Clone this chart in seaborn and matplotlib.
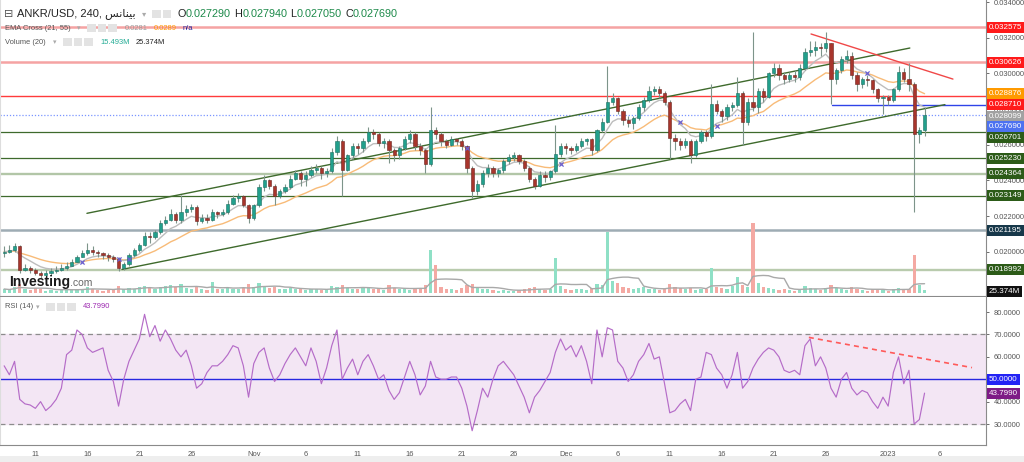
import numpy as np
import pandas as pd
import matplotlib
matplotlib.use("Agg")
import matplotlib.pyplot as plt
import matplotlib.dates as mdates
import matplotlib.transforms as mtransforms
from matplotlib.patches import Rectangle
import seaborn as sns

# ---------------- data (12h candles) ----------------
candle_start = "2022-10-08 00:00"
candle_step = "12h"
first_open = 0.0199

closes = [
    0.0200, 0.0201, 0.0203, 0.0190, 0.0191, 0.0190, 0.0188, 0.0187, 0.0188, 0.0189,
    0.0190, 0.0191, 0.0192, 0.0194, 0.0197, 0.0199, 0.0201, 0.0200, 0.0199, 0.0198,
    0.0197, 0.0196, 0.0191, 0.0193, 0.0198, 0.0201, 0.0204, 0.0209, 0.0208, 0.0211,
    0.0216, 0.0218, 0.0221, 0.0218, 0.0222, 0.0224, 0.0225, 0.0217, 0.0219, 0.0218,
    0.0222, 0.0221, 0.0222, 0.0227, 0.0230, 0.0231, 0.0226, 0.0219, 0.0226, 0.0236,
    0.0240, 0.0237, 0.0231, 0.0234, 0.0236, 0.0241, 0.0244, 0.0241, 0.0243, 0.0246,
    0.0247, 0.0244, 0.0245, 0.0256, 0.0262, 0.0246, 0.0254, 0.0259, 0.0258, 0.0262,
    0.0267, 0.0266, 0.0261, 0.0262, 0.0257, 0.0254, 0.0258, 0.0263, 0.0266, 0.0259,
    0.0257, 0.0249, 0.0268, 0.0266, 0.0262, 0.0260, 0.0263, 0.0262, 0.0259, 0.0247,
    0.0234, 0.0238, 0.0244, 0.0247, 0.0244, 0.0246, 0.0251, 0.0253, 0.0254, 0.0251,
    0.0247, 0.0241, 0.0237, 0.0243, 0.0242, 0.0245, 0.0255, 0.0259, 0.0258, 0.0257,
    0.0259, 0.0262, 0.0263, 0.0257, 0.0268, 0.0273, 0.0284, 0.0286, 0.0279, 0.0274,
    0.0272, 0.0275, 0.0281, 0.0285, 0.0290, 0.0291, 0.0289, 0.0284, 0.0264, 0.0262,
    0.0260, 0.0262, 0.0254, 0.0262, 0.0267, 0.0265, 0.0283, 0.0279, 0.0276, 0.0281,
    0.0282, 0.0289, 0.0273, 0.0284, 0.0281, 0.0290, 0.0287, 0.0300, 0.0303, 0.0299,
    0.0297, 0.0299, 0.0298, 0.0303, 0.0312, 0.0313, 0.0315, 0.0314, 0.0317, 0.0297,
    0.0302, 0.0308, 0.0310, 0.0299, 0.0294, 0.0297, 0.0296, 0.0291, 0.0286, 0.0287,
    0.0285, 0.0291, 0.0301, 0.0297, 0.0294, 0.0266, 0.0268, 0.02769,
]
highs = [
    0.0203, 0.0204, 0.0205, 0.0204, 0.0193, 0.0192, 0.0191, 0.0189, 0.0190, 0.0191,
    0.0192, 0.0193, 0.0194, 0.0196, 0.0198, 0.0201, 0.0205, 0.0203, 0.0201, 0.0200,
    0.0199, 0.0198, 0.0197, 0.0194, 0.0199, 0.0202, 0.0205, 0.0211, 0.0211, 0.0212,
    0.0218, 0.0220, 0.0224, 0.0222, 0.0232, 0.0226, 0.0227, 0.0226, 0.0221, 0.0221,
    0.0224, 0.0223, 0.0224, 0.0229, 0.0232, 0.0233, 0.0232, 0.0227, 0.0227, 0.0238,
    0.0243, 0.0241, 0.0238, 0.0235, 0.0238, 0.0243, 0.0246, 0.0245, 0.0245, 0.0248,
    0.0249, 0.0248, 0.0247, 0.0258, 0.0265, 0.0263, 0.0255, 0.0261, 0.0261, 0.0264,
    0.0270, 0.0269, 0.0267, 0.0264, 0.0263, 0.0258, 0.0259, 0.0265, 0.0268, 0.0267,
    0.0261, 0.0258, 0.0281, 0.0270, 0.0267, 0.0263, 0.0265, 0.0264, 0.0263, 0.0260,
    0.0248, 0.0240, 0.0246, 0.0249, 0.0248, 0.0247, 0.0252, 0.0255, 0.0256, 0.0255,
    0.0252, 0.0248, 0.0242, 0.0245, 0.0245, 0.0246, 0.0271, 0.0261, 0.0261, 0.0259,
    0.0261, 0.0264, 0.0264, 0.0264, 0.0269, 0.0275, 0.0304, 0.0289, 0.0287, 0.0280,
    0.0276, 0.0276, 0.0283, 0.0287, 0.0293, 0.0293, 0.0293, 0.0290, 0.0285, 0.0266,
    0.0264, 0.0264, 0.0263, 0.0263, 0.0268, 0.0268, 0.0294, 0.0285, 0.0280, 0.0283,
    0.0284, 0.0298, 0.0290, 0.0286, 0.0323, 0.0292, 0.0292, 0.0301, 0.0306, 0.0305,
    0.0301, 0.0301, 0.0302, 0.0305, 0.0314, 0.0318, 0.0318, 0.0317, 0.0323, 0.0317,
    0.0303, 0.0310, 0.0313, 0.0312, 0.0301, 0.0298, 0.0299, 0.0297, 0.0292, 0.0288,
    0.0288, 0.0292, 0.0304, 0.0303, 0.0306, 0.0295, 0.0270, 0.0281,
]
lows = [
    0.0197, 0.0199, 0.0200, 0.0188, 0.0189, 0.0188, 0.0187, 0.0185, 0.0186, 0.0187,
    0.0188, 0.0189, 0.0190, 0.0192, 0.0194, 0.0197, 0.0198, 0.0198, 0.0197, 0.0196,
    0.0195, 0.0194, 0.0189, 0.0190, 0.0192, 0.0197, 0.0200, 0.0203, 0.0205, 0.0207,
    0.0210, 0.0215, 0.0217, 0.0216, 0.0216, 0.0220, 0.0222, 0.0215, 0.0216, 0.0216,
    0.0217, 0.0219, 0.0220, 0.0221, 0.0226, 0.0228, 0.0225, 0.0216, 0.0218, 0.0225,
    0.0234, 0.0235, 0.0226, 0.0230, 0.0233, 0.0235, 0.0240, 0.0237, 0.0237, 0.0242,
    0.0244, 0.0241, 0.0242, 0.0244, 0.0254, 0.0231, 0.0245, 0.0252, 0.0255, 0.0256,
    0.0261, 0.0263, 0.0259, 0.0258, 0.0250, 0.0251, 0.0252, 0.0257, 0.0261, 0.0257,
    0.0254, 0.0244, 0.0248, 0.0263, 0.0259, 0.0258, 0.0259, 0.0260, 0.0257, 0.0244,
    0.0230, 0.0232, 0.0236, 0.0242, 0.0242, 0.0242, 0.0244, 0.0249, 0.0251, 0.0249,
    0.0245, 0.0239, 0.0235, 0.0236, 0.0239, 0.0240, 0.0244, 0.0253, 0.0255, 0.0255,
    0.0256, 0.0258, 0.0260, 0.0254, 0.0256, 0.0267, 0.0272, 0.0282, 0.0277, 0.0271,
    0.0270, 0.0269, 0.0274, 0.0279, 0.0284, 0.0288, 0.0286, 0.0282, 0.0252, 0.0257,
    0.0257, 0.0258, 0.0250, 0.0253, 0.0261, 0.0262, 0.0264, 0.0277, 0.0273, 0.0274,
    0.0279, 0.0281, 0.0260, 0.0271, 0.0279, 0.0278, 0.0284, 0.0286, 0.0298, 0.0296,
    0.0294, 0.0295, 0.0295, 0.0296, 0.0302, 0.0310, 0.0310, 0.0310, 0.0312, 0.0283,
    0.0294, 0.0300, 0.0306, 0.0297, 0.0290, 0.0292, 0.0293, 0.0289, 0.0284, 0.0277,
    0.0282, 0.0284, 0.0290, 0.0295, 0.0290, 0.0222, 0.0261, 0.0265,
]
volumes_m = [
    20, 15, 30, 45, 20, 15, 25, 20, 12, 15,
    12, 18, 15, 20, 22, 18, 30, 20, 15, 12,
    15, 14, 35, 20, 25, 20, 28, 35, 25, 20,
    30, 35, 40, 30, 45, 25, 20, 35, 20, 15,
    55, 20, 18, 25, 20, 22, 25, 45, 30, 50,
    35, 25, 30, 20, 18, 25, 22, 20, 15, 18,
    20, 15, 18, 35, 30, 40, 25, 20, 18, 25,
    30, 20, 25, 15, 40, 25, 20, 18, 15, 25,
    20, 40, 215, 140, 30, 20, 18, 15, 25, 40,
    45, 30, 20, 18, 15, 12, 15, 12, 10, 15,
    20, 25, 30, 20, 15, 18, 175, 35, 20, 15,
    18, 20, 15, 25, 45, 40, 305, 60, 50, 30,
    25, 20, 25, 30, 20, 18, 15, 20, 45, 30,
    25, 20, 25, 15, 20, 18, 125, 30, 25, 20,
    35, 80, 40, 30, 350, 50, 30, 25, 20, 15,
    18, 15, 12, 20, 35, 25, 20, 15, 25, 40,
    25, 20, 15, 30, 20, 15, 12, 18, 20, 15,
    12, 20, 25, 15, 20, 190, 40, 15,
]
rsi_values = [
    56, 52, 58, 41, 39, 38.5, 37, 40, 36, 38,
    41, 46, 61, 63, 72, 70, 64, 62, 63, 64,
    54, 49, 38, 50, 58, 63, 68, 79, 69, 74,
    67, 72, 68, 63, 60, 63, 56, 46, 48, 53,
    56, 56, 58, 61, 65, 64, 56, 42, 57, 62,
    64, 55, 49, 52, 57, 61, 64, 60, 56, 64,
    58, 48, 55, 65, 72, 50, 55, 59, 52, 58,
    61, 56, 50, 52, 45, 41, 44, 51, 58, 52,
    43, 47, 58, 51, 50, 50, 51, 51, 46, 38,
    27, 36, 46, 42, 50, 56, 58, 55, 52, 47,
    42, 35, 42, 45, 49, 53, 62, 68, 63, 65,
    60, 65, 58, 48, 72, 60, 73, 72, 58, 55,
    49, 52, 58, 61, 66, 59, 60, 48, 35, 36,
    39, 41, 36, 50, 51, 62, 61, 55, 52, 46,
    52, 62, 46, 49, 55, 59, 62, 64, 63, 60,
    54, 53, 54, 52, 65, 68, 56, 60, 55, 46,
    42, 50, 53, 46, 43, 45, 44, 40, 37, 42,
    38, 53, 60, 48, 54, 30, 32, 43.799,
]

ema_fast_len, ema_slow_len = 21, 55      # defined on 4h bars
bars_per_candle = 3                      # 3 x 4h = 12h candle
volume_ma_len = 20

level_prices = [0.032575, 0.030626, 0.028710, 0.026701, 0.025230,
                0.024364, 0.023149, 0.021195, 0.018992]
current_price = 0.027690
ema_fast_last, ema_slow_last = 0.028099, 0.028876
support_segment_price = 0.02825
support_segment_start = "2022-12-26 14:00"

upper_channel_dates = ["2022-10-15 23:00", "2023-01-03 02:00"]
upper_channel_prices = [0.022152, 0.031421]
lower_channel_dates = ["2022-10-19 08:00", "2023-01-06 11:00"]
lower_channel_prices = [0.019006, 0.028247]
red_trend_dates = ["2022-12-24 14:00", "2023-01-07 05:30"]
red_trend_prices = [0.032208, 0.029680]
rsi_trend_dates = ["2022-12-24 09:00", "2023-01-09 01:30"]
rsi_trend_values = [68.7, 55.2]

date_ticks = ["2022-10-11", "2022-10-16", "2022-10-21", "2022-10-26", "2022-11-01",
              "2022-11-06", "2022-11-11", "2022-11-16", "2022-11-21", "2022-11-26",
              "2022-12-01", "2022-12-06", "2022-12-11", "2022-12-16", "2022-12-21",
              "2022-12-26", "2023-01-01", "2023-01-06"]
date_tick_labels = ["11", "16", "21", "26", "Nov", "6", "11", "16", "21", "26",
                    "Dec", "6", "11", "16", "21", "26", "2023", "6"]
price_ticks = [0.020, 0.022, 0.024, 0.026, 0.028, 0.030, 0.032, 0.034]
rsi_ticks = [30, 40, 60, 70, 80]
rsi_mid = 50

header_symbol = "ANKR/USD, 240, "
header_exchange = "\ufeb2\ufee7\ufe8e\ufee8\ufef4\ufe91"   # بينانس (shaped, visual order)
ohlc_letters = ["O", "H", "L", "C"]
ohlc_values = ["0.027290", "0.027940", "0.027050", "0.027690"]
ema_header_values = ["0.0281", "0.0289", "n/a"]
volume_header_values = ["15.493M", "25.374M"]
rsi_last = 43.7990

# ---------------- style ----------------
sns.set_style("white")
plt.rcParams["font.family"] = ["Liberation Sans", "DejaVu Sans"]

W, H = 1024, 462
fig = plt.figure(figsize=(W / 100, H / 100), dpi=100)
fig.patch.set_facecolor("white")


def fx(p):
    return p / W


def fy(p):
    return 1 - p / H


ax = fig.add_axes([0, fy(296), fx(986), 296 / H])
axr = fig.add_axes([0, fy(445), fx(986), 148 / H])
axv = ax.twinx()

x_left = mdates.date2num(pd.Timestamp("2022-10-07 14:24"))
x_right = x_left + 986 / 10.4

dates = pd.date_range(candle_start, periods=len(closes), freq=candle_step)
x = mdates.date2num(dates.to_pydatetime())
c = np.array(closes)
o = np.r_[first_open, c[:-1]]
hi = np.array(highs)
lo = np.array(lows)
up = c >= o

up_col, dn_col = "#22a08c", "#a8352c"
wick_col = "#7d948a"

# volume (overlay at bottom of price pane)
vol = np.array(volumes_m, dtype=float)
vol_cols = np.where(up, "#8fe0c6", "#f4a9a3")
axv.bar(x, vol, width=0.3, color=vol_cols, linewidth=0, zorder=1)
vol_ma = pd.Series(vol).rolling(round(volume_ma_len / bars_per_candle), min_periods=1).mean()
sns.lineplot(x=x, y=vol_ma.values, ax=axv, color="#a9a9a9", linewidth=1.0,
             estimator=None, sort=False, legend=False)
axv.set_ylim(-15, 1465)
axv.set_yticks([])
axv.set_ylabel("")
for s in axv.spines.values():
    s.set_visible(False)

# horizontal levels
level_line_colors = ["#f5a3a3", "#f5a3a3", "#ff3b3b", "#3e6a2c", "#3e6a2c",
                     "#b2c6a7", "#3e6a2c", "#9eacb4", "#b9cbad"]
level_line_widths = [1.8, 1.8, 1.0, 0.9, 0.9, 1.7, 0.9, 1.8, 1.7]
for p, col, lw in zip(level_prices, level_line_colors, level_line_widths):
    ax.axhline(p, color=col, lw=lw, zorder=1)
ax.axhline(current_price, color="#7a95ff", lw=0.9, ls=(0, (1, 1.5)), zorder=1)
seg_x0 = mdates.date2num(pd.Timestamp(support_segment_start))
ax.plot([seg_x0, x_right], [support_segment_price] * 2, color="#2f43e8", lw=1.0, zorder=2)

# trend lines
for ds, ps, col in [(upper_channel_dates, upper_channel_prices, "#3e6a2c"),
                    (lower_channel_dates, lower_channel_prices, "#3e6a2c"),
                    (red_trend_dates, red_trend_prices, "#f04848")]:
    xs = mdates.date2num(pd.to_datetime(ds).to_pydatetime())
    sns.lineplot(x=xs, y=ps, ax=ax, color=col, linewidth=1.0, estimator=None,
                 sort=False, legend=False, zorder=3)

# EMA cross
ema_fast = pd.Series(c).ewm(span=ema_fast_len / bars_per_candle, adjust=False).mean().values
ema_slow = pd.Series(c).ewm(span=ema_slow_len / bars_per_candle, adjust=False).mean().values
sns.lineplot(x=x, y=ema_slow, ax=ax, color="#f8bb78", linewidth=1.0, estimator=None,
             sort=False, legend=False, zorder=3)
sns.lineplot(x=x, y=ema_fast, ax=ax, color="#bdbdbd", linewidth=1.0, estimator=None,
             sort=False, legend=False, zorder=3)
sgn = np.sign(ema_fast - ema_slow)
cross = np.where(np.diff(sgn[3:]) != 0)[0] + 4
ax.scatter(x[cross], ema_slow[cross], marker="x", s=9, color="#6a5fd0", lw=0.9, zorder=6)

# candles
ax.vlines(x, lo, hi, color=wick_col, lw=0.8, zorder=4)
body_lo = np.minimum(o, c)
body_h = np.maximum(np.abs(c - o), 0.00004)
ax.bar(x, body_h, bottom=body_lo, width=0.3, color=np.where(up, up_col, dn_col),
       edgecolor=np.where(up, "#1a6e61", "#6b2520"), linewidth=0.4, zorder=5)

ax.set_xlim(x_left, x_right)
axv.set_xlim(x_left, x_right)
ax.set_ylim(0.032 - 258.3 / 17833, 0.032 + 37.7 / 17833)
ax.yaxis.tick_right()
ax.set_yticks(price_ticks)
ax.set_yticklabels([f"{t:.6f}" for t in price_ticks])
ax.tick_params(axis="y", labelsize=5.4, colors="#555555", length=2.5, width=0.6, pad=3)
ax.set_xticks([])
ax.set_ylabel("")
ax.set_xlabel("")
for side, s in ax.spines.items():
    s.set_color("#8a8a8a")
    s.set_linewidth(0.8)
ax.spines["top"].set_visible(False)
ax.spines["left"].set_color("#dddddd")

# right side boxed labels (price pane)
trans_p = mtransforms.blended_transform_factory(ax.transAxes, ax.transData)


def box_label(axis, trans, yval, text, bg, nudge=0, fg="white"):
    axis.annotate(text, xy=(1.0, yval), xycoords=trans, xytext=(3, -nudge),
                  textcoords="offset pixels", ha="left", va="center", fontsize=5.8,
                  color=fg, annotation_clip=False, zorder=20,
                  bbox=dict(boxstyle="square,pad=0.25", fc=bg, ec="none"))


label_specs = [
    (level_prices[0], "#ff1a1a", 0), (level_prices[1], "#ff1a1a", 0),
    (ema_slow_last, "#ff9a00", 0), (level_prices[2], "#ff1a1a", 8),
    (ema_fast_last, "#a2a2a2", 9), (current_price, "#4d72f0", 12),
    (level_prices[3], "#2c5b18", 5), (level_prices[4], "#2c5b18", 0),
    (level_prices[5], "#2c5b18", 0), (level_prices[6], "#2c5b18", 0),
    (level_prices[7], "#17384a", 0), (level_prices[8], "#2c5b18", 0),
]
for val, bg, nud in label_specs:
    box_label(ax, trans_p, val, f"{val:.6f}", bg, nud)
ax.annotate(volume_header_values[1], xy=(1.0, 4.3 / 296), xycoords=ax.transAxes,
            xytext=(3, 0), textcoords="offset pixels", ha="left", va="center",
            fontsize=5.8, color="white", annotation_clip=False, zorder=20,
            bbox=dict(boxstyle="square,pad=0.25", fc="#111111", ec="none"))

# ---------------- RSI pane ----------------
axr.axhspan(30, 70, color="#f3e6f4", zorder=0)
axr.axhline(70, color="#8c8c8c", lw=0.9, ls=(0, (4, 3)), zorder=1)
axr.axhline(30, color="#8c8c8c", lw=0.9, ls=(0, (4, 3)), zorder=1)
axr.axhline(rsi_mid, color="#2727e0", lw=1.0, zorder=2)
sns.lineplot(x=x, y=rsi_values, ax=axr, color="#b56cc8", linewidth=0.85,
             estimator=None, sort=False, legend=False, zorder=3)
rx = mdates.date2num(pd.to_datetime(rsi_trend_dates).to_pydatetime())
axr.plot(rx, rsi_trend_values, color="#ff5a5a", lw=1.2, ls=(0, (3, 2.5)), zorder=3)
axr.set_xlim(x_left, x_right)
axr.set_ylim(50 - 65.8 / 2.24, 50 + 82.3 / 2.24)
axr.yaxis.tick_right()
axr.set_yticks(rsi_ticks)
axr.set_yticklabels([f"{t:.4f}" for t in rsi_ticks])
axr.tick_params(axis="y", labelsize=5.4, colors="#555555", length=2.5, width=0.6, pad=3)
xt = mdates.date2num(pd.to_datetime(date_ticks).to_pydatetime())
axr.set_xticks(xt)
axr.set_xticklabels(date_tick_labels)
axr.tick_params(axis="x", labelsize=5.4, colors="#555555", length=2.5, width=0.6, pad=2)
axr.set_ylabel("")
axr.set_xlabel("")
for side, s in axr.spines.items():
    s.set_color("#8a8a8a")
    s.set_linewidth(0.8)
axr.spines["top"].set_visible(False)
axr.spines["left"].set_color("#dddddd")
trans_r = mtransforms.blended_transform_factory(axr.transAxes, axr.transData)
box_label(axr, trans_r, rsi_mid, f"{rsi_mid:.4f}", "#2323f5", 0)
box_label(axr, trans_r, rsi_last, f"{rsi_last:.4f}", "#7e1b86", 0)

# ---------------- header texts ----------------
def icon(x0, y0, n):
    for k in range(n):
        fig.add_artist(Rectangle((fx(x0 + 10.5 * k), fy(y0 + 8)), 8.5 / W, 8 / H,
                                 transform=fig.transFigure, color="#e3e3e3", lw=0))


fig.text(fx(4), fy(14), "\u229f", fontsize=8, color="#555555", va="center",
         family=["DejaVu Sans"])
fig.text(fx(17), fy(14), header_symbol + header_exchange, fontsize=8, color="#222222",
         va="center")
fig.text(fx(142), fy(14), "\u25be", fontsize=6, color="#aaaaaa", va="center",
         family=["DejaVu Sans"])
icon(152, 10, 2)
for lx, vx, letter, val in zip([178, 234, 290, 345], [186, 243, 297, 353],
                               ohlc_letters, ohlc_values):
    fig.text(fx(lx), fy(14), letter, fontsize=7.8, color="#222222", va="center")
    fig.text(fx(vx), fy(14), val, fontsize=7.8, color="#1d8a4a", va="center")

fig.text(fx(5), fy(28), "EMA Cross (21, 55)", fontsize=5.4, color="#555555", va="center")
fig.text(fx(77), fy(28), "\u25be", fontsize=5, color="#aaaaaa", va="center",
         family=["DejaVu Sans"])
icon(87, 24, 3)
for vx, val, col in zip([125, 154, 183], ema_header_values, ["#9a9a9a", "#ff9800", "#23239a"]):
    fig.text(fx(vx), fy(28), val, fontsize=5.4, color=col, va="center")

fig.text(fx(5), fy(42), "Volume (20)", fontsize=5.4, color="#555555", va="center")
fig.text(fx(53), fy(42), "\u25be", fontsize=5, color="#aaaaaa", va="center",
         family=["DejaVu Sans"])
icon(63, 38, 3)
fig.text(fx(100), fy(42), volume_header_values[0], fontsize=5.4, color="#22ab94", va="center")
fig.text(fx(136), fy(42), volume_header_values[1], fontsize=5.4, color="#222222", va="center")

fig.text(fx(5), fy(307), "RSI (14)", fontsize=5.4, color="#555555", va="center")
fig.text(fx(36), fy(307), "\u25be", fontsize=5, color="#aaaaaa", va="center",
         family=["DejaVu Sans"])
icon(46, 303, 3)
fig.text(fx(83), fy(307), f"{rsi_last:.4f}", fontsize=5.4, color="#9c27b0", va="center")

# watermark
fig.text(fx(9), fy(282), "Investing", fontsize=10, fontweight="bold", color="#1a1a1a",
         va="center")
fig.text(fx(70), fy(283), ".com", fontsize=7.5, color="#666666", va="center")

# bottom UI strip
fig.add_artist(Rectangle((0, 0), 1, 6 / H, transform=fig.transFigure, color="#eeeeee", lw=0))

fig.savefig("out.png", dpi=100)
